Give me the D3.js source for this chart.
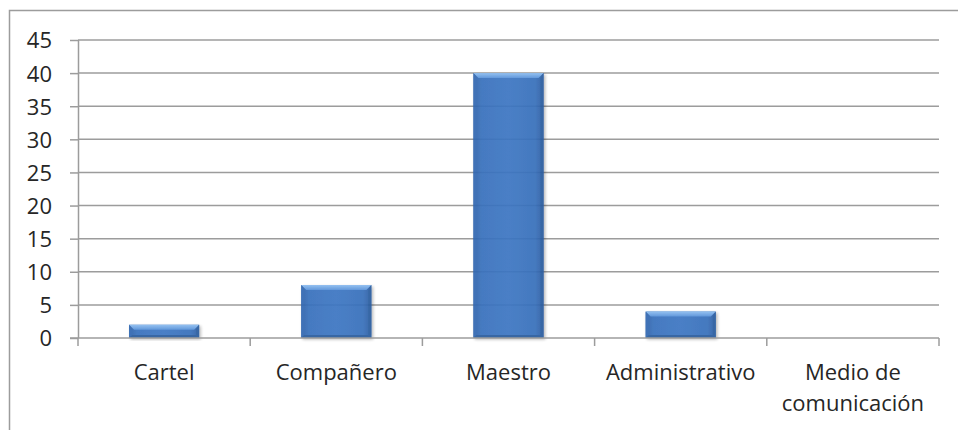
<!DOCTYPE html>
<html>
<head>
<meta charset="utf-8">
<script src="https://cdn.jsdelivr.net/npm/d3@7/dist/d3.min.js"></script>
<style>
  html, body { margin: 0; padding: 0; background: #fff; }
  svg { display: block; }
  text { font-family: "Open Sans", "DejaVu Sans", sans-serif; fill: #262626; }
</style>
</head>
<body>
<svg id="chart" width="958" height="430"></svg>
<script>
// Survey counts by source
const categories = ["Cartel", "Compañero", "Maestro", "Administrativo", "Medio de comunicación"];
const categoryLines = [["Cartel"], ["Compañero"], ["Maestro"], ["Administrativo"], ["Medio de", "comunicación"]];
const values = [2, 8, 40, 4, 0];
const yTicks = [0, 5, 10, 15, 20, 25, 30, 35, 40, 45];

const svg = d3.select("#chart");
const W = 958, H = 430;

const plot = { left: 78, right: 939, top: 40, bottom: 338 };

const x = d3.scaleBand()
  .domain(categories)
  .range([plot.left, plot.right])
  .paddingInner(0.593)
  .paddingOuter(0.2965);

const y = d3.scaleLinear()
  .domain([0, 45])
  .range([plot.bottom, plot.top]);

const defs = svg.append("defs");

const body = defs.append("linearGradient").attr("id", "barBody")
  .attr("x1", "0").attr("x2", "1").attr("y1", "0").attr("y2", "0");
body.append("stop").attr("offset", "0").attr("stop-color", "#2e62a8");
body.append("stop").attr("offset", "0.12").attr("stop-color", "#3971bd");
body.append("stop").attr("offset", "0.5").attr("stop-color", "#3c76c2");
body.append("stop").attr("offset", "0.88").attr("stop-color", "#3870bb");
body.append("stop").attr("offset", "1").attr("stop-color", "#2c5da1");

const topBevel = defs.append("linearGradient").attr("id", "barTop")
  .attr("x1", "0").attr("x2", "0").attr("y1", "0").attr("y2", "1");
topBevel.append("stop").attr("offset", "0").attr("stop-color", "#8dbdf0");
topBevel.append("stop").attr("offset", "1").attr("stop-color", "#5690d8");

const shadow = defs.append("filter").attr("id", "barShadow")
  .attr("x", "-20%").attr("y", "-20%").attr("width", "140%").attr("height", "140%");
shadow.append("feDropShadow")
  .attr("dx", 1.5).attr("dy", 1.5).attr("stdDeviation", 1.5)
  .attr("flood-color", "#000").attr("flood-opacity", 0.3);

// outer frame
svg.append("rect")
  .attr("x", 9.5).attr("y", 10.5)
  .attr("width", W).attr("height", H)
  .attr("fill", "none").attr("stroke", "#9c9c9c").attr("stroke-width", 1.5);

// y axis with ticks
const yAxis = d3.axisLeft(y).tickValues(yTicks).tickSize(8).tickPadding(18).tickFormat(d3.format("d"));
const gy = svg.append("g").attr("transform", `translate(${plot.left},0)`).call(yAxis);
gy.select(".domain").attr("stroke", "#9c9c9c").attr("stroke-width", 1.5)
  .attr("d", `M0.5,${plot.top}V${plot.bottom}`);
gy.selectAll(".tick line").attr("stroke", "#9c9c9c").attr("stroke-width", 1.5);
gy.selectAll(".tick text")
  .attr("font-size", 22).attr("fill", "#262626")
  .attr("dy", "0.36em");

// horizontal gridlines
svg.append("g").selectAll("line.grid")
  .data(yTicks.filter(d => d > 0))
  .join("line")
  .attr("x1", plot.left).attr("x2", plot.right)
  .attr("y1", d => y(d)).attr("y2", d => y(d))
  .attr("stroke", "#9c9c9c").attr("stroke-width", 1.5);

// bars with bevelled edges
const bars = svg.append("g").selectAll("g.bar")
  .data(values.map((v, i) => ({ cat: categories[i], v })).filter(d => d.v > 0))
  .join("g")
  .attr("class", "bar")
  .attr("opacity", 0.93)
  .attr("filter", "url(#barShadow)");

bars.each(function (d) {
  const g = d3.select(this);
  const bx = x(d.cat), bw = x.bandwidth();
  const by = y(d.v), bh = y(0) - y(d.v);
  const b = Math.min(5, bh / 2.5);
  g.append("rect").attr("x", bx).attr("y", by).attr("width", bw).attr("height", bh)
    .attr("fill", "url(#barBody)");
  g.append("polygon")
    .attr("points", [[bx, by], [bx + bw, by], [bx + bw - b, by + b], [bx + b, by + b]].join(" "))
    .attr("fill", "url(#barTop)");
  g.append("polygon")
    .attr("points", [[bx, by], [bx + b * 0.6, by + b], [bx + b * 0.6, by + bh - b * 0.6], [bx, by + bh]].join(" "))
    .attr("fill", "#3068b2");
  g.append("polygon")
    .attr("points", [[bx + bw, by], [bx + bw - b * 0.6, by + b], [bx + bw - b * 0.6, by + bh - b * 0.6], [bx + bw, by + bh]].join(" "))
    .attr("fill", "#2a5c9f");
  g.append("polygon")
    .attr("points", [[bx, by + bh], [bx + b * 0.6, by + bh - b * 0.6], [bx + bw - b * 0.6, by + bh - b * 0.6], [bx + bw, by + bh]].join(" "))
    .attr("fill", "#2b5c9e");
});

// x axis baseline
svg.append("line")
  .attr("x1", plot.left - 8).attr("x2", plot.right)
  .attr("y1", plot.bottom).attr("y2", plot.bottom)
  .attr("stroke", "#9c9c9c").attr("stroke-width", 1.5);

// category separators
const sepX = categories.map(c => x(c) - x.step() * x.paddingOuter()).concat([plot.right]);
svg.append("g").selectAll("line.sep")
  .data(sepX)
  .join("line")
  .attr("x1", d => d).attr("x2", d => d)
  .attr("y1", plot.bottom).attr("y2", plot.bottom + 8)
  .attr("stroke", "#9c9c9c").attr("stroke-width", 1.5);

// category labels
const labels = svg.append("g").selectAll("text.cat")
  .data(categories)
  .join("text")
  .attr("class", "cat")
  .attr("x", d => x(d) + x.bandwidth() / 2)
  .attr("y", 380)
  .attr("text-anchor", "middle")
  .attr("font-size", 22);
labels.each(function (d, i) {
  const t = d3.select(this);
  categoryLines[i].forEach((line, j) => {
    t.append("tspan")
      .attr("x", x(d) + x.bandwidth() / 2)
      .attr("dy", j === 0 ? 0 : 31)
      .text(line);
  });
});
</script>
</body>
</html>
